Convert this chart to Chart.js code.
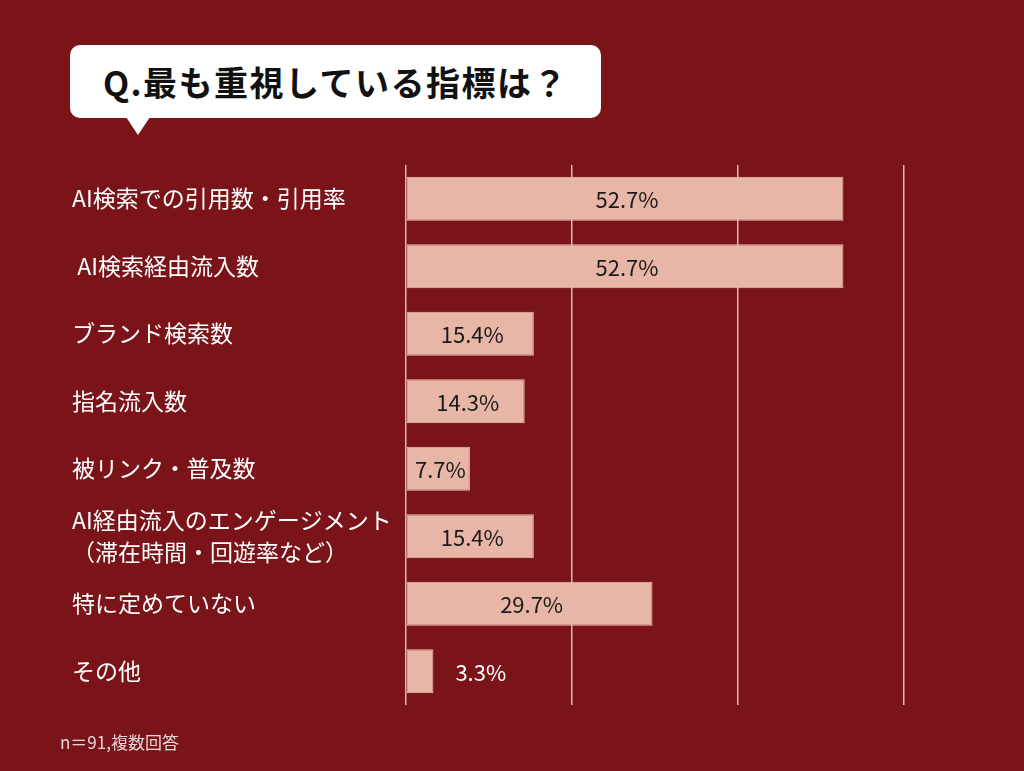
<!DOCTYPE html>
<html lang="ja">
<head>
<meta charset="utf-8">
<script src="https://cdn.jsdelivr.net/npm/chart.js@4.4.1/dist/chart.umd.min.js"></script>
<style>
  html, body { margin: 0; padding: 0; background: #7a1419; }
  body { width: 1024px; height: 771px; position: relative; overflow: hidden; font-family: "Noto Sans CJK JP", "Noto Sans", sans-serif; }
  #wrap { position: absolute; left: 0; top: 0; width: 1024px; height: 771px; }
  .bubble {
    position: absolute; left: 70px; top: 45px; width: 531px; height: 73px;
    background: #fff; border-radius: 10px;
    display: flex; align-items: center; justify-content: center;
    font-size: 34px; font-weight: bold; color: #111; letter-spacing: 1.5px;
  }
  .bubble:after {
    content: ""; position: absolute; left: 56px; top: 72px;
    border-left: 12px solid transparent; border-right: 12px solid transparent;
    border-top: 18px solid #fff;
  }
  .note { position: absolute; left: 60px; top: 729px; font-size: 17px; color: #e8d6d6; }
</style>
</head>
<body>
<div class="bubble">Q.最も重視している指標は？</div>
<div id="wrap"><canvas id="myChart" width="1024" height="771"></canvas></div>
<div class="note">n＝91,複数回答</div>
<script>
const categories = [
  "AI検索での引用数・引用率",
  " AI検索経由流入数",
  "ブランド検索数",
  "指名流入数",
  "被リンク・普及数",
  ["AI経由流入のエンゲージメント", "（滞在時間・回遊率など）"],
  "特に定めていない",
  "その他",
];
const values = [52.7, 52.7, 15.4, 14.3, 7.7, 15.4, 29.7, 3.3];
const xTicks = [0, 20, 40, 60];

// draw the percentage labels on / next to the bars
const valueLabels = {
  id: "valueLabels",
  afterDatasetsDraw(chart) {
    const ctx = chart.ctx;
    const meta = chart.getDatasetMeta(0);
    ctx.save();
    ctx.font = "22px 'Noto Sans CJK JP', 'Noto Sans', sans-serif";
    ctx.textBaseline = "middle";
    meta.data.forEach((bar, i) => {
      const text = values[i].toFixed(1) + "%";
      const w = ctx.measureText(text).width;
      const barW = bar.x - bar.base;
      if (w + 4 < barW) {
        ctx.fillStyle = "#1a1a1a";
        ctx.textAlign = "center";
        ctx.fillText(text, bar.base + barW / 2 + 2, bar.y + 1);
      } else {
        ctx.fillStyle = "#ffffff";
        ctx.textAlign = "left";
        ctx.fillText(text, bar.x + 22, bar.y + 1);
      }
    });
    ctx.restore();
  },
};

const ctx = document.getElementById("myChart").getContext("2d");
const myChart = new Chart(ctx, {
  type: "bar",
  data: {
    labels: categories,
    datasets: [
      {
        data: values,
        backgroundColor: "#e8b6a6",
        borderColor: "#ecc0b1",
        borderWidth: 1,
        borderSkipped: false,
        barPercentage: 0.65,
        categoryPercentage: 1,
      },
    ],
  },
  options: {
    indexAxis: "y",
    responsive: false,
    animation: false,
    layout: { padding: { left: 72, top: 165, right: 120, bottom: 66 } },
    scales: {
      x: {
        min: 0,
        max: 60,
        afterBuildTicks: (scale) => {
          scale.ticks = xTicks.map((v) => ({ value: v }));
        },
        afterFit: (scale) => {
          scale.height = 0;
        },
        ticks: { display: false },
        border: { display: false },
        grid: { color: "#d9b9b9", lineWidth: 1.5, drawTicks: false },
      },
      y: {
        afterFit: (scale) => {
          scale.width = 334;
        },
        ticks: {
          crossAlign: "far",
          color: "#ffffff",
          padding: 0,
          font: { size: 23, family: "'Noto Sans CJK JP', 'Noto Sans', sans-serif", lineHeight: 1.35 },
        },
        border: { display: false },
        grid: { display: false },
      },
    },
    plugins: {
      legend: { display: false },
      tooltip: { enabled: false },
    },
  },
  plugins: [valueLabels],
});
</script>
</body>
</html>
